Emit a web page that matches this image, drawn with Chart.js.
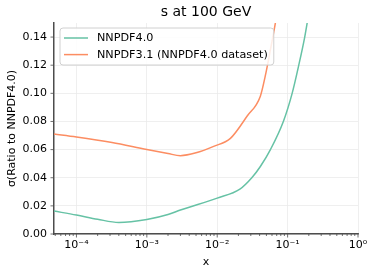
<!DOCTYPE html>
<html>
<head>
<meta charset="utf-8">
<script src="https://cdn.jsdelivr.net/npm/chart.js@4.4.0/dist/chart.umd.min.js"></script>
<style>
  html, body { margin: 0; padding: 0; background: #fff; }
</style>
</head>
<body>
<canvas id="chart" width="374" height="275"></canvas>
<script>
// values
var titleText = 's at 100 GeV';
var seriesNames = ['NNPDF4.0', 'NNPDF3.1 (NNPDF4.0 dataset)'];
var seriesColors = ['#66c2a5', '#fc8d62'];

var xNew = [4.8e-5, 1e-4, 2e-4, 4e-4, 1e-3, 2e-3, 3e-3, 1e-2, 2.1e-2, 3.1e-2, 4.1e-2, 5.7e-2, 8.7e-2, 0.116, 0.144, 0.175, 0.2];
var yNew = [0.0163, 0.0135, 0.0105, 0.0082, 0.0103, 0.0138, 0.0171, 0.0255, 0.0319, 0.040, 0.048, 0.060, 0.080, 0.100, 0.120, 0.140, 0.157];

var xOld = [4.8e-5, 1e-4, 3.2e-4, 1e-3, 2e-3, 3e-3, 5e-3, 8.9e-3, 1.54e-2, 2.65e-2, 4.1e-2, 4.8e-2, 5.7e-2, 6.7e-2, 7.5e-2];
var yOld = [0.0711, 0.069, 0.065, 0.060, 0.0572, 0.0557, 0.0577, 0.0623, 0.068, 0.0837, 0.098, 0.112, 0.131, 0.150, 0.165];

var yTicks = [0, 0.02, 0.04, 0.06, 0.08, 0.10, 0.12, 0.14];
var xDecades = [1e-5, 1e-4, 1e-3, 1e-2, 1e-1, 1];
var xTickLabels = ['10\u207B\u2075', '10\u207B\u2074', '10\u207B\u00B3', '10\u207B\u00B2', '10\u207B\u00B9', '10\u2070'];

var xMin = 4.8e-5, xMax = 1, yMin = 0, yMax = 0.15;
var font = 'DejaVu Sans';
var axisColor = '#4d4d4d';

function toPoints(xs, ys) {
  var pts = [];
  for (var i = 0; i < xs.length; i++) pts.push({x: xs[i], y: ys[i]});
  return pts;
}

// ticks, title and legend drawn on top of the chart
var decorations = {
  id: 'decorations',
  afterDraw: function(chart) {
    var ctx = chart.ctx;
    var area = chart.chartArea;
    var xs = chart.scales.x, ys = chart.scales.y;
    ctx.save();
    ctx.strokeStyle = axisColor;
    ctx.lineWidth = 0.8;
    xs.ticks.forEach(function(t) {
      var px = xs.getPixelForValue(t.value);
      var len = t.major ? 3.5 : 2;
      ctx.beginPath();
      ctx.moveTo(px, area.bottom);
      ctx.lineTo(px, area.bottom + len);
      ctx.stroke();
    });
    ys.ticks.forEach(function(t) {
      var py = ys.getPixelForValue(t.value);
      ctx.beginPath();
      ctx.moveTo(area.left, py);
      ctx.lineTo(area.left - 3.5, py);
      ctx.stroke();
    });

    // title
    ctx.fillStyle = '#000';
    ctx.font = '14px "' + font + '"';
    ctx.textAlign = 'center';
    ctx.textBaseline = 'middle';
    ctx.fillText(titleText, (area.left + area.right) / 2, 12);

    // legend
    ctx.font = '11.2px "' + font + '"';
    var maxW = 0;
    chart.data.datasets.forEach(function(ds) {
      maxW = Math.max(maxW, ctx.measureText(ds.label).width);
    });
    var bx = area.left + 6, by = area.top + 5;
    var bw = 37 + maxW + 6, bh = 37;
    ctx.beginPath();
    ctx.roundRect(bx, by, bw, bh, 3);
    ctx.fillStyle = 'rgba(255,255,255,0.85)';
    ctx.fill();
    ctx.strokeStyle = '#d0d0d0';
    ctx.lineWidth = 1;
    ctx.stroke();
    ctx.textAlign = 'left';
    chart.data.datasets.forEach(function(ds, i) {
      var ry = by + 10 + i * 16.6;
      ctx.strokeStyle = ds.borderColor;
      ctx.lineWidth = 1.5;
      ctx.beginPath();
      ctx.moveTo(bx + 4, ry);
      ctx.lineTo(bx + 28, ry);
      ctx.stroke();
      ctx.fillStyle = '#000';
      ctx.fillText(ds.label, bx + 37, ry + 0.5);
    });
    ctx.restore();
  }
};

new Chart(document.getElementById('chart'), {
  type: 'line',
  data: {
    datasets: [
      {
        label: seriesNames[0],
        data: toPoints(xNew, yNew),
        borderColor: seriesColors[0],
        borderWidth: 1.5,
        pointRadius: 0,
        cubicInterpolationMode: 'monotone',
        fill: false
      },
      {
        label: seriesNames[1],
        data: toPoints(xOld, yOld),
        borderColor: seriesColors[1],
        borderWidth: 1.5,
        pointRadius: 0,
        cubicInterpolationMode: 'monotone',
        fill: false
      }
    ]
  },
  options: {
    responsive: false,
    devicePixelRatio: 1,
    animation: false,
    layout: { padding: { top: 23, right: 16, left: 0, bottom: 0 } },
    plugins: {
      legend: { display: false },
      title: { display: false },
      tooltip: { enabled: false }
    },
    scales: {
      x: {
        type: 'logarithmic',
        min: xMin,
        max: xMax,
        afterBuildTicks: function(scale) {
          var ticks = [];
          xDecades.forEach(function(d) {
            for (var k = 1; k < 10; k++) {
              var v = d * k;
              if (v >= xMin && v <= xMax * 1.0001) ticks.push({value: v, major: k === 1});
            }
          });
          scale.ticks = ticks;
        },
        afterFit: function(scale) { scale.height = 41; },
        ticks: {
          autoSkip: false,
          maxRotation: 0,
          padding: 5,
          color: '#000',
          font: { family: font, size: 11 },
          callback: function(value) {
            var i = xDecades.findIndex(function(d) { return Math.abs(d - value) < d * 1e-6; });
            return i >= 0 ? xTickLabels[i] : '';
          }
        },
        grid: {
          drawTicks: false,
          color: function(c) { return c.tick && c.tick.major ? '#ebebeb' : 'rgba(0,0,0,0)'; },
          lineWidth: 0.8
        },
        border: { display: true, color: axisColor, width: 1.5 },
        title: {
          display: true,
          text: 'x',
          color: '#000',
          font: { family: font, size: 11 },
          padding: { top: 0, bottom: 6 }
        }
      },
      y: {
        min: yMin,
        max: yMax,
        afterBuildTicks: function(scale) {
          scale.ticks = yTicks.map(function(v) { return {value: v}; });
        },
        afterFit: function(scale) { scale.width = 54; },
        ticks: {
          padding: 7,
          color: '#000',
          font: { family: font, size: 11 },
          callback: function(value) { return value.toFixed(2); }
        },
        grid: {
          drawTicks: false,
          color: '#ebebeb',
          lineWidth: 0.8
        },
        border: { display: true, color: axisColor, width: 1.5 },
        title: {
          display: true,
          text: '\u03C3(Ratio to NNPDF4.0)',
          color: '#000',
          font: { family: font, size: 11 },
          padding: { top: 6, bottom: 0 }
        }
      }
    }
  },
  plugins: [decorations]
});
</script>
</body>
</html>
